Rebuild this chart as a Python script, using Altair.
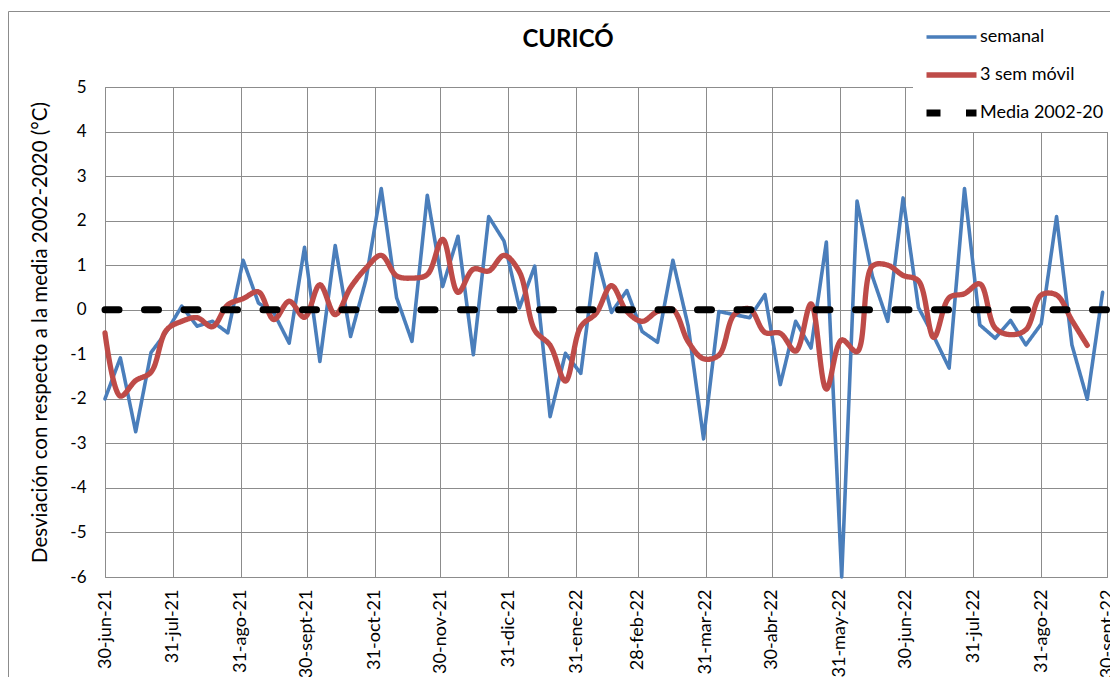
import altair as alt
import pandas as pd

inicio = "2021-06-30"
series = ["semanal", "3 sem móvil", "Media 2002-20"]
colores = ["#4a7ebb", "#be4b48", "#000000"]

semanal = [-2.0, -1.08, -2.74, -0.96, -0.5, 0.08, -0.37, -0.26, -0.52, 1.11,
           0.15, -0.07, -0.75, 1.4, -1.16, 1.44, -0.6, 0.67, 2.72, 0.27,
           -0.71, 2.57, 0.52, 1.65, -1.01, 2.09, 1.54, 0.04, 0.98, -2.4,
           -0.98, -1.43, 1.26, -0.06, 0.43, -0.49, -0.73, 1.11, -0.37, -2.9,
           -0.04, -0.11, -0.18, 0.34, -1.68, -0.26, -0.86, 1.52, -6.0, 2.44,
           0.75, -0.26, 2.51, 0.05, -0.6, -1.31, 2.72, -0.34, -0.64, -0.24,
           -0.79, -0.32, 2.09, -0.79, -2.01, 0.39]

movil = [-0.52, -1.94, -1.59, -1.40, -0.46, -0.26, -0.18, -0.38, 0.11, 0.25,
         0.40, -0.22, 0.19, -0.17, 0.56, -0.11, 0.50, 0.93, 1.22, 0.76,
         0.71, 0.79, 1.58, 0.39, 0.91, 0.87, 1.22, 0.85, -0.46, -0.80,
         -1.60, -0.38, -0.08, 0.54, -0.04, -0.26, -0.04, 0.00, -0.72, -1.10,
         -1.02, -0.11, 0.02, -0.51, -0.53, -0.93, 0.13, -1.78, -0.68, -0.94,
         0.98, 1.00, 0.77, 0.65, -0.62, 0.27, 0.36, 0.58, -0.41, -0.56,
         -0.45, 0.33, 0.33, -0.24, -0.80]

media_fechas = ["2021-06-30", "2022-09-30"]
media = [0.0, 0.0]

meses = ["ene", "feb", "mar", "abr", "may", "jun", "jul", "ago", "sept", "oct", "nov", "dic"]
ticks_x = [(2021, 6, 30), (2021, 7, 31), (2021, 8, 31), (2021, 9, 30), (2021, 10, 31),
           (2021, 11, 30), (2021, 12, 31), (2022, 1, 31), (2022, 2, 28), (2022, 3, 31),
           (2022, 4, 30), (2022, 5, 31), (2022, 6, 30), (2022, 7, 31), (2022, 8, 31),
           (2022, 9, 30)]
ticks_y = list(range(-6, 6))

fechas = [(pd.Timestamp(inicio) + pd.Timedelta(days=7 * i)).strftime("%Y-%m-%d")
          for i in range(len(semanal))]

rows = []
for d, v in zip(fechas, semanal):
    rows.append({"fecha": d, "valor": v, "serie": series[0]})
for d, v in zip(fechas, movil):
    rows.append({"fecha": d, "valor": v, "serie": series[1]})
for d, v in zip(media_fechas, media):
    rows.append({"fecha": d, "valor": v, "serie": series[2]})
df = pd.DataFrame(rows)

FONT = "Lato"
GRID = "#8c8c8c"

def dt(t):
    return alt.DateTime(year=t[0], month=t[1], date=t[2], utc=True)

label_expr = ("utcdate(datum.value) + '-' + " + str(meses) +
              "[utcmonth(datum.value)] + '-' + utcFormat(datum.value, '%y')")

leg = alt.Legend(
    title=" ", titleFontSize=1, titlePadding=5,
    orient="none", legendX=808, legendY=-75,
    symbolType="stroke", symbolSize=2500, clipHeight=28, rowPadding=10,
    padding=5, symbolOffset=5, labelOffset=0,
    labelFont=FONT, labelFontSize=18, labelColor="black",
    fillColor="white",
)

base = alt.Chart(df).encode(
    x=alt.X("fecha:T",
            scale=alt.Scale(type="utc", domain=[dt(ticks_x[0]), dt(ticks_x[-1])]),
            axis=alt.Axis(values=[dt(t) for t in ticks_x], labelExpr=label_expr,
                          labelAngle=270, labelPadding=12, labelFont=FONT,
                          labelFontSize=18, labelColor="black", ticks=False,
                          domain=False, grid=True, title=None, labelOverlap=False)),
    y=alt.Y("valor:Q",
            scale=alt.Scale(domain=[-6, 5], nice=False, zero=False),
            axis=alt.Axis(values=ticks_y, labelExpr="'' + datum.value",
                          labelFont=FONT, labelFontSize=17,
                          labelColor="black", labelPadding=19, ticks=False,
                          domain=False, grid=True,
                          title="Desviación con respecto a la media 2002-2020 (°C)",
                          titleFont=FONT, titleFontSize=20.5, titleFontWeight="normal",
                          titleColor="black", titleX=-65, titleY=245,
                          titleBaseline="middle", titleAlign="center")),
    color=alt.Color("serie:N", scale=alt.Scale(domain=series, range=colores), legend=leg),
    strokeWidth=alt.StrokeWidth("serie:N", scale=alt.Scale(domain=series, range=[3.6, 7, 5.5]),
                                legend=leg),
    strokeDash=alt.StrokeDash("serie:N",
                              scale=alt.Scale(domain=series, range=[[1, 0], [1, 0], [14, 25.5]]),
                              legend=leg),
)

l_sem = base.transform_filter(alt.datum.serie == series[0]).mark_line(
    interpolate="linear", strokeJoin="round", strokeCap="round")
l_mov = base.transform_filter(alt.datum.serie == series[1]).mark_line(
    interpolate="catmull-rom", strokeJoin="round", strokeCap="round")
l_med = base.transform_filter(alt.datum.serie == series[2]).mark_line(strokeCap="round")

marco = alt.Chart(pd.DataFrame({"k": [0]})).mark_rect(
    filled=False, stroke=GRID, strokeWidth=1).encode(
    x=alt.value(-96.5), x2=alt.value(1200), y=alt.value(-75.5), y2=alt.value(800))

chart = alt.layer(marco, l_sem, l_mov, l_med).properties(
    width=1002, height=490,
    autosize="none",
    padding={"left": 97, "top": 79, "right": 3, "bottom": 100},
    background="white",
    title=alt.TitleParams(text="CURICÓ", font=FONT, fontSize=24, fontWeight="bold",
                          color="black", anchor="middle", dx=-38, offset=-60,
                          baseline="alphabetic"),
).configure_view(stroke=GRID, strokeWidth=1).configure_axis(
    gridColor=GRID, gridOpacity=1, gridWidth=1)

chart.save("out.html", embed_options={"renderer": "svg", "actions": False})
